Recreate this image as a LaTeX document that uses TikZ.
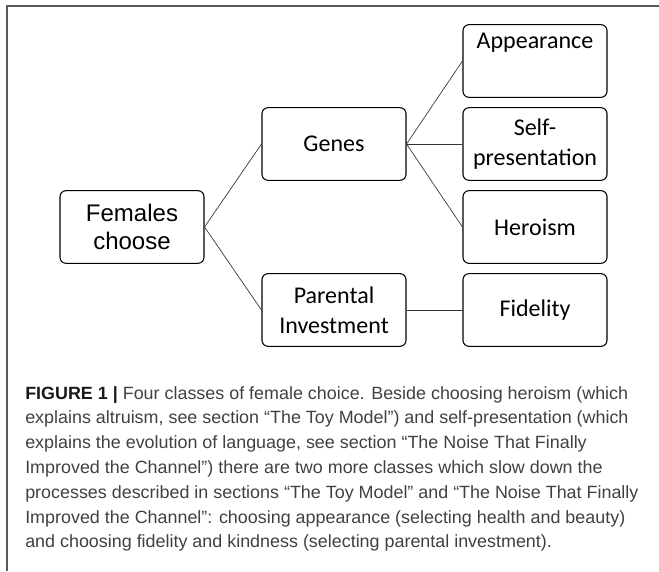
\documentclass[tikz,border=0pt]{standalone}
\usepackage{fontspec}
\setmainfont{Liberation Sans}
\newfontfamily\boxfont{Carlito}
\newfontfamily\capfont[FakeStretch=1.01]{Liberation Sans}

\begin{document}
\begin{tikzpicture}[x=0.75pt,y=-0.75pt,
  choice/.style={draw,rounded corners=4.5pt,line width=0.8pt,minimum width=108pt,minimum height=54.5pt,inner sep=1pt,align=center,font=\boxfont\fontsize{18}{22.5}\selectfont},
  link/.style={line width=0.5pt,black!80}]
\useasboundingbox (0,0) rectangle (659,571);
\draw [line width=0.8pt,black!65] (7,571) -- (7,6) -- (659,6);

\node [choice,font=\fontsize{18}{20.5}\selectfont] at (132,227) (fem) {Females\\choose};
\node [choice] at (334,144) (genes) {Genes};
\node [choice] at (334,310) (par) {Parental\\Investment};
\node [choice,text depth=31pt] at (535,61) (app) {Appearance};
\node [choice] at (535,144) (self) {Self-\\presentation};
\node [choice] at (535,227) (hero) {Heroism};
\node [choice] at (535,310) (fid) {Fidelity};

\draw [link] (fem.east) -- (genes.west);
\draw [link] (fem.east) -- (par.west);
\draw [link] (genes.east) -- (app.west);
\draw [link] (genes.east) -- (self.west);
\draw [link] (genes.east) -- (hero.west);
\draw [link] (par.east) -- (fid.west);

\node [anchor=north west,inner sep=0pt,align=left,text=black!75,font=\capfont\fontsize{13.3}{18.6}\selectfont] at (25,386) (cap) {{\color{black!90}\bfseries FIGURE 1 |} Four classes of female choice. Beside choosing heroism (which\\
explains altruism, see section “The Toy Model”) and self-presentation (which\\
explains the evolution of language, see section “The Noise That Finally\\
Improved the Channel”) there are two more classes which slow down the\\
processes described in sections “The Toy Model” and “The Noise That Finally\\
Improved the Channel”: choosing appearance (selecting health and beauty)\\
and choosing fidelity and kindness (selecting parental investment).};

\end{tikzpicture}
\end{document}
